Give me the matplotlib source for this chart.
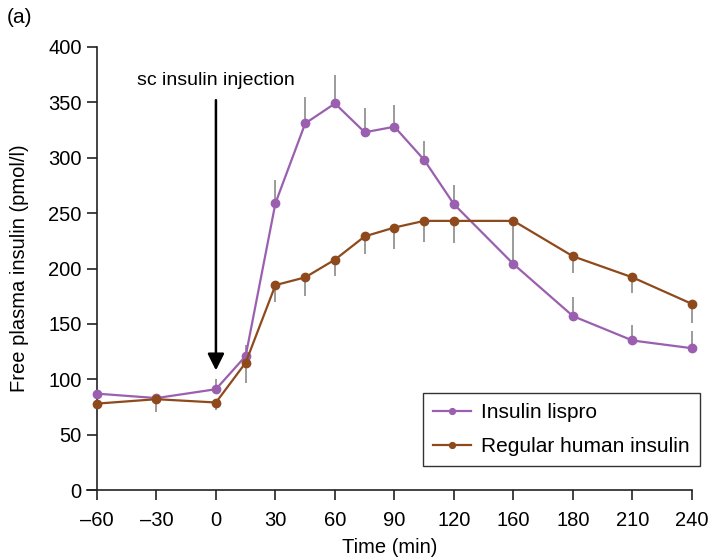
import matplotlib
matplotlib.use("Agg")
import matplotlib.pyplot as plt

plt.rcParams['font.family'] = ['Liberation Sans', 'DejaVu Sans']

# sampling times (min); the 150-min point is labelled "160" on the original axis
times = [-60, -30, 0, 15, 30, 45, 60, 75, 90, 105, 120, 150, 180, 210, 240]

lispro = [87, 83, 91, 121, 259, 331, 349, 323, 328, 298, 258, 204, 157, 135, 128]
lispro_err = [3, 3, 9, 10, 21, 24, 26, 22, 20, 17, 17, 0, 17, 14, 16]      # upward only

regular = [78, 82, 79, 115, 185, 192, 208, 229, 237, 243, 243, 243, 211, 192, 168]
regular_err = [0, 12, 7, 18, 15, 17, 15, 16, 19, 19, 20, 38, 15, 14, 17]  # downward only

tick_pos = [-60, -30, 0, 30, 60, 90, 120, 150, 180, 210, 240]
tick_labels = ['\u201360', '\u201330', '0', '30', '60', '90', '120', '160', '180', '210', '240']

purple = '#9b5fb0'
brown = '#8e4a1c'
grey = '#8a8a8a'

fig = plt.figure(figsize=(7.11, 5.58), dpi=100)
ax = fig.add_axes([87 / 711, 1 - 490 / 558, (692 - 87) / 711, (490 - 47) / 558])

zeros = [0] * len(times)
ax.errorbar(times, lispro, yerr=[zeros, lispro_err], fmt='none', ecolor=grey,
            elinewidth=1.2, capsize=0, zorder=2, clip_on=False)
ax.errorbar(times, regular, yerr=[regular_err, zeros], fmt='none', ecolor=grey,
            elinewidth=1.2, capsize=0, zorder=2, clip_on=False)

ax.plot(times, lispro, '-o', color=purple, lw=1.6, ms=6, label='Insulin lispro',
        zorder=3, clip_on=False)
ax.plot(times, regular, '-o', color=brown, lw=1.6, ms=6, label='Regular human insulin',
        zorder=3, clip_on=False)

# injection arrow
ax.annotate('', xy=(0, 108), xytext=(0, 352),
            arrowprops=dict(arrowstyle='-|>,head_width=0.5,head_length=1.0',
                            color='black', lw=1.8, shrinkA=0, shrinkB=0))
ax.text(0, 362, 'sc insulin injection', ha='center', va='bottom', fontsize=14)

ax.set_xlim(-65, 240)
ax.set_ylim(0, 400)
ax.set_xticks(tick_pos)
ax.set_xticklabels(tick_labels)
ax.set_yticks(range(0, 401, 50))

ax.spines['top'].set_visible(False)
ax.spines['right'].set_visible(False)
ax.spines['left'].set_position(('data', -60))
ax.spines['bottom'].set_bounds(-65, 240)
for sp in ['left', 'bottom']:
    ax.spines[sp].set_linewidth(1.2)
    ax.spines[sp].set_color('#222222')
ax.tick_params(axis='both', labelsize=14.5, length=7, width=1.2, color='#222222', pad=4)
ax.tick_params(axis='x', pad=8)

ax.set_xlabel('Time (min)', fontsize=14.5, labelpad=6)
ax.set_ylabel('Free plasma insulin (pmol/l)', fontsize=14.5, labelpad=14)

leg = ax.legend(loc='lower right', bbox_to_anchor=(1.031, 0.03), fontsize=15,
                frameon=True, fancybox=False, edgecolor='black',
                handlelength=1.8, markerscale=0.7, borderpad=0.5, labelspacing=0.7,
                handletextpad=0.5)
leg.get_frame().set_linewidth(1.0)

fig.text(0.01, 0.985, '(a)', fontsize=15, ha='left', va='top')

fig.savefig('out.png', dpi=100)
